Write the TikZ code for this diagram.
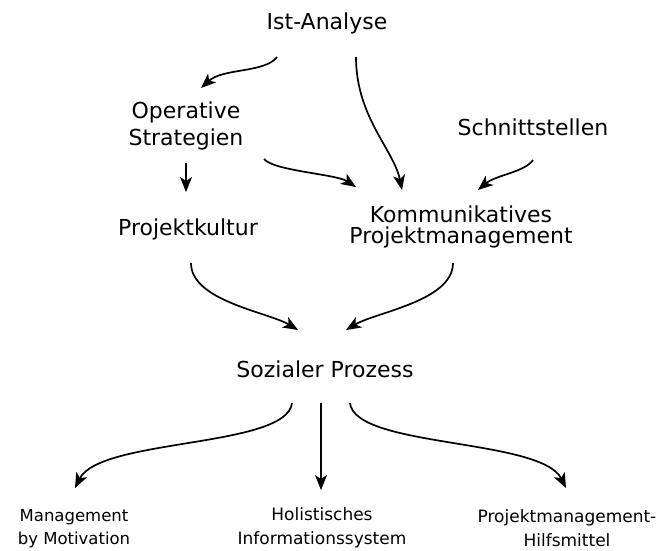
\documentclass[tikz,border=0pt]{standalone}
\usepackage{fontspec}
\setmainfont{DejaVu Sans}
\usetikzlibrary{arrows.meta}
\tikzset{
every node/.style={ % plain text, no frame
inner sep=0pt,
align=center},
topic/.style={font=\fontsize{22}{27}\selectfont},
leaf/.style={font=\fontsize{17}{24}\selectfont},
flow/.style={ % hand drawn arrows
draw,
line width=1.7pt,
-{Stealth[length=15pt,width=12pt,inset=4pt]}}}

\begin{document}
\begin{tikzpicture}[x=1pt,y=-1pt]
	\useasboundingbox (0,0) rectangle (657,550);
	\node[topic, anchor=base] (ist) at (327,29) {Ist-Analyse};
	\node[topic, anchor=base] (op) at (186,145) {Operative\\Strategien};
	\node[topic, anchor=base] (schn) at (533,135) {Schnittstellen};
	\node[topic, anchor=base] (proj) at (188,235) {Projektkultur};
	\node[topic, anchor=base, font=\fontsize{22}{21}\selectfont] (komm) at (461,243) {Kommunikatives\\Projektmanagement};
	\node[topic, anchor=base] (soz) at (325,377) {Sozialer Prozess};
	\node[leaf, anchor=base, font=\fontsize{16.5}{23}\selectfont] (mbm) at (74,544) {Management\\by Motivation};
	\node[leaf, anchor=base] (his) at (322,544) {Holistisches\\Informationssystem};
	\node[leaf, anchor=base] (pmh) at (567,546) {Projektmanagement-\\Hilfsmittel};
	% upper part
	\draw[flow] ([shift={(-50,28)}]ist.base) .. controls +(-12,16) and +(22,-20) .. ([shift={(15,-57)}]op.base);
	\draw[flow] ([shift={(29,28)}]ist.base) .. controls +(0,60) and +(-8,-40) .. ([shift={(-59,-53)}]komm.base);
	\draw[flow] ([shift={(78,14)}]op.base) .. controls +(10,12) and +(-20,-13) .. ([shift={(-105,-56)}]komm.base);
	\draw[flow, line width=1.3pt] ([shift={(0,18)}]op.base) -- ([shift={(-2,-43)}]proj.base);
	\draw[flow] ([shift={(0,25)}]schn.base) .. controls +(-8,12) and +(18,-15) .. ([shift={(17,-53)}]komm.base);
	% middle part
	\draw[flow] ([shift={(3,28)}]proj.base) .. controls +(0,38) and +(-30,-18) .. ([shift={(-27,-47)}]soz.base);
	\draw[flow] ([shift={(-8,20)}]komm.base) .. controls +(0,38) and +(30,-18) .. ([shift={(21,-47)}]soz.base);
	% lower part
	\draw[flow] ([shift={(-33,26)}]soz.base) .. controls +(-5,45) and +(25,-50) .. ([shift={(1,-56)}]mbm.base);
	\draw[flow, line width=1.3pt] ([shift={(-4,26)}]soz.base) -- ([shift={(-1,-54)}]his.base);
	\draw[flow] ([shift={(25,26)}]soz.base) .. controls +(5,45) and +(-25,-50) .. ([shift={(-1,-58)}]pmh.base);
\end{tikzpicture}
\end{document}
